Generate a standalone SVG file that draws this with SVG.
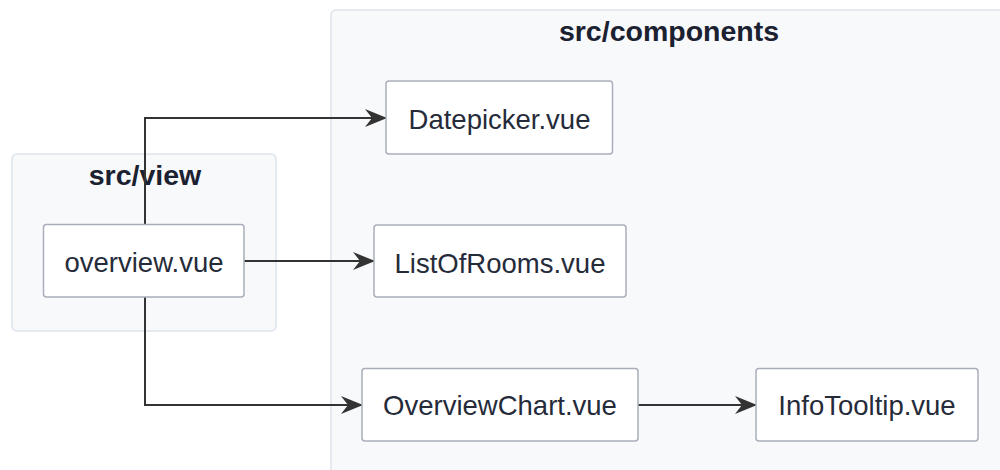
<svg xmlns="http://www.w3.org/2000/svg" width="1000" height="470" viewBox="0 0 1000 470">
  <style>
    .cluster rect { fill: #f8f9fb; stroke: #dde3ec; stroke-width: 1.5; }
    .cluster text { font-family: "Liberation Sans", Arial, sans-serif; font-weight: bold; font-size: 28.5px; fill: #1b2130; text-anchor: middle; }
    .node rect { fill: #ffffff; stroke: #a8afba; stroke-width: 1.5; }
    .node text { font-family: "Liberation Sans", Arial, sans-serif; font-size: 27.5px; fill: #262b3a; text-anchor: middle; }
    .edges path { fill: none; stroke: #333333; stroke-width: 2; }
  </style>
  <defs>
    <marker id="arrow" markerUnits="userSpaceOnUse" viewBox="0 0 22 18" markerWidth="22" markerHeight="18" refX="21" refY="9" orient="auto">
      <path d="M0,0 L22,9 L0,18 L7,9 z" fill="#333333"/>
    </marker>
  </defs>
  <rect width="1000" height="470" fill="#ffffff"/>

  <!-- folder groups -->
  <g id="cluster-components" class="cluster">
    <rect x="331" y="10" width="700" height="480" rx="5"/>
    <text x="669" y="41">src/components</text>
  </g>
  <g id="cluster-view" class="cluster">
    <rect x="12" y="154" width="264" height="177" rx="5"/>
    <text x="145" y="185">src/view</text>
  </g>

  <!-- dependency edges -->
  <g id="edges" class="edges">
    <path d="M145,224 V118 H386" marker-end="url(#arrow)"/>
    <path d="M244,261 H374" marker-end="url(#arrow)"/>
    <path d="M145,297 V405 H362" marker-end="url(#arrow)"/>
    <path d="M638,405 H756" marker-end="url(#arrow)"/>
  </g>

  <!-- files -->
  <g id="overview" class="node">
    <rect x="43.5" y="224.5" width="200.5" height="72.5" rx="3"/>
    <text x="144" y="272">overview.vue</text>
  </g>
  <g id="datepicker" class="node">
    <rect x="386" y="81" width="226.5" height="73" rx="3"/>
    <text x="499.5" y="129">Datepicker.vue</text>
  </g>
  <g id="listofrooms" class="node">
    <rect x="374" y="225" width="252" height="72" rx="3"/>
    <text x="500" y="273">ListOfRooms.vue</text>
  </g>
  <g id="overviewchart" class="node">
    <rect x="362" y="368.5" width="276" height="72.5" rx="3"/>
    <text x="500" y="415">OverviewChart.vue</text>
  </g>
  <g id="infotooltip" class="node">
    <rect x="756" y="368.5" width="222" height="72.5" rx="3"/>
    <text x="867" y="415">InfoTooltip.vue</text>
  </g>
</svg>
